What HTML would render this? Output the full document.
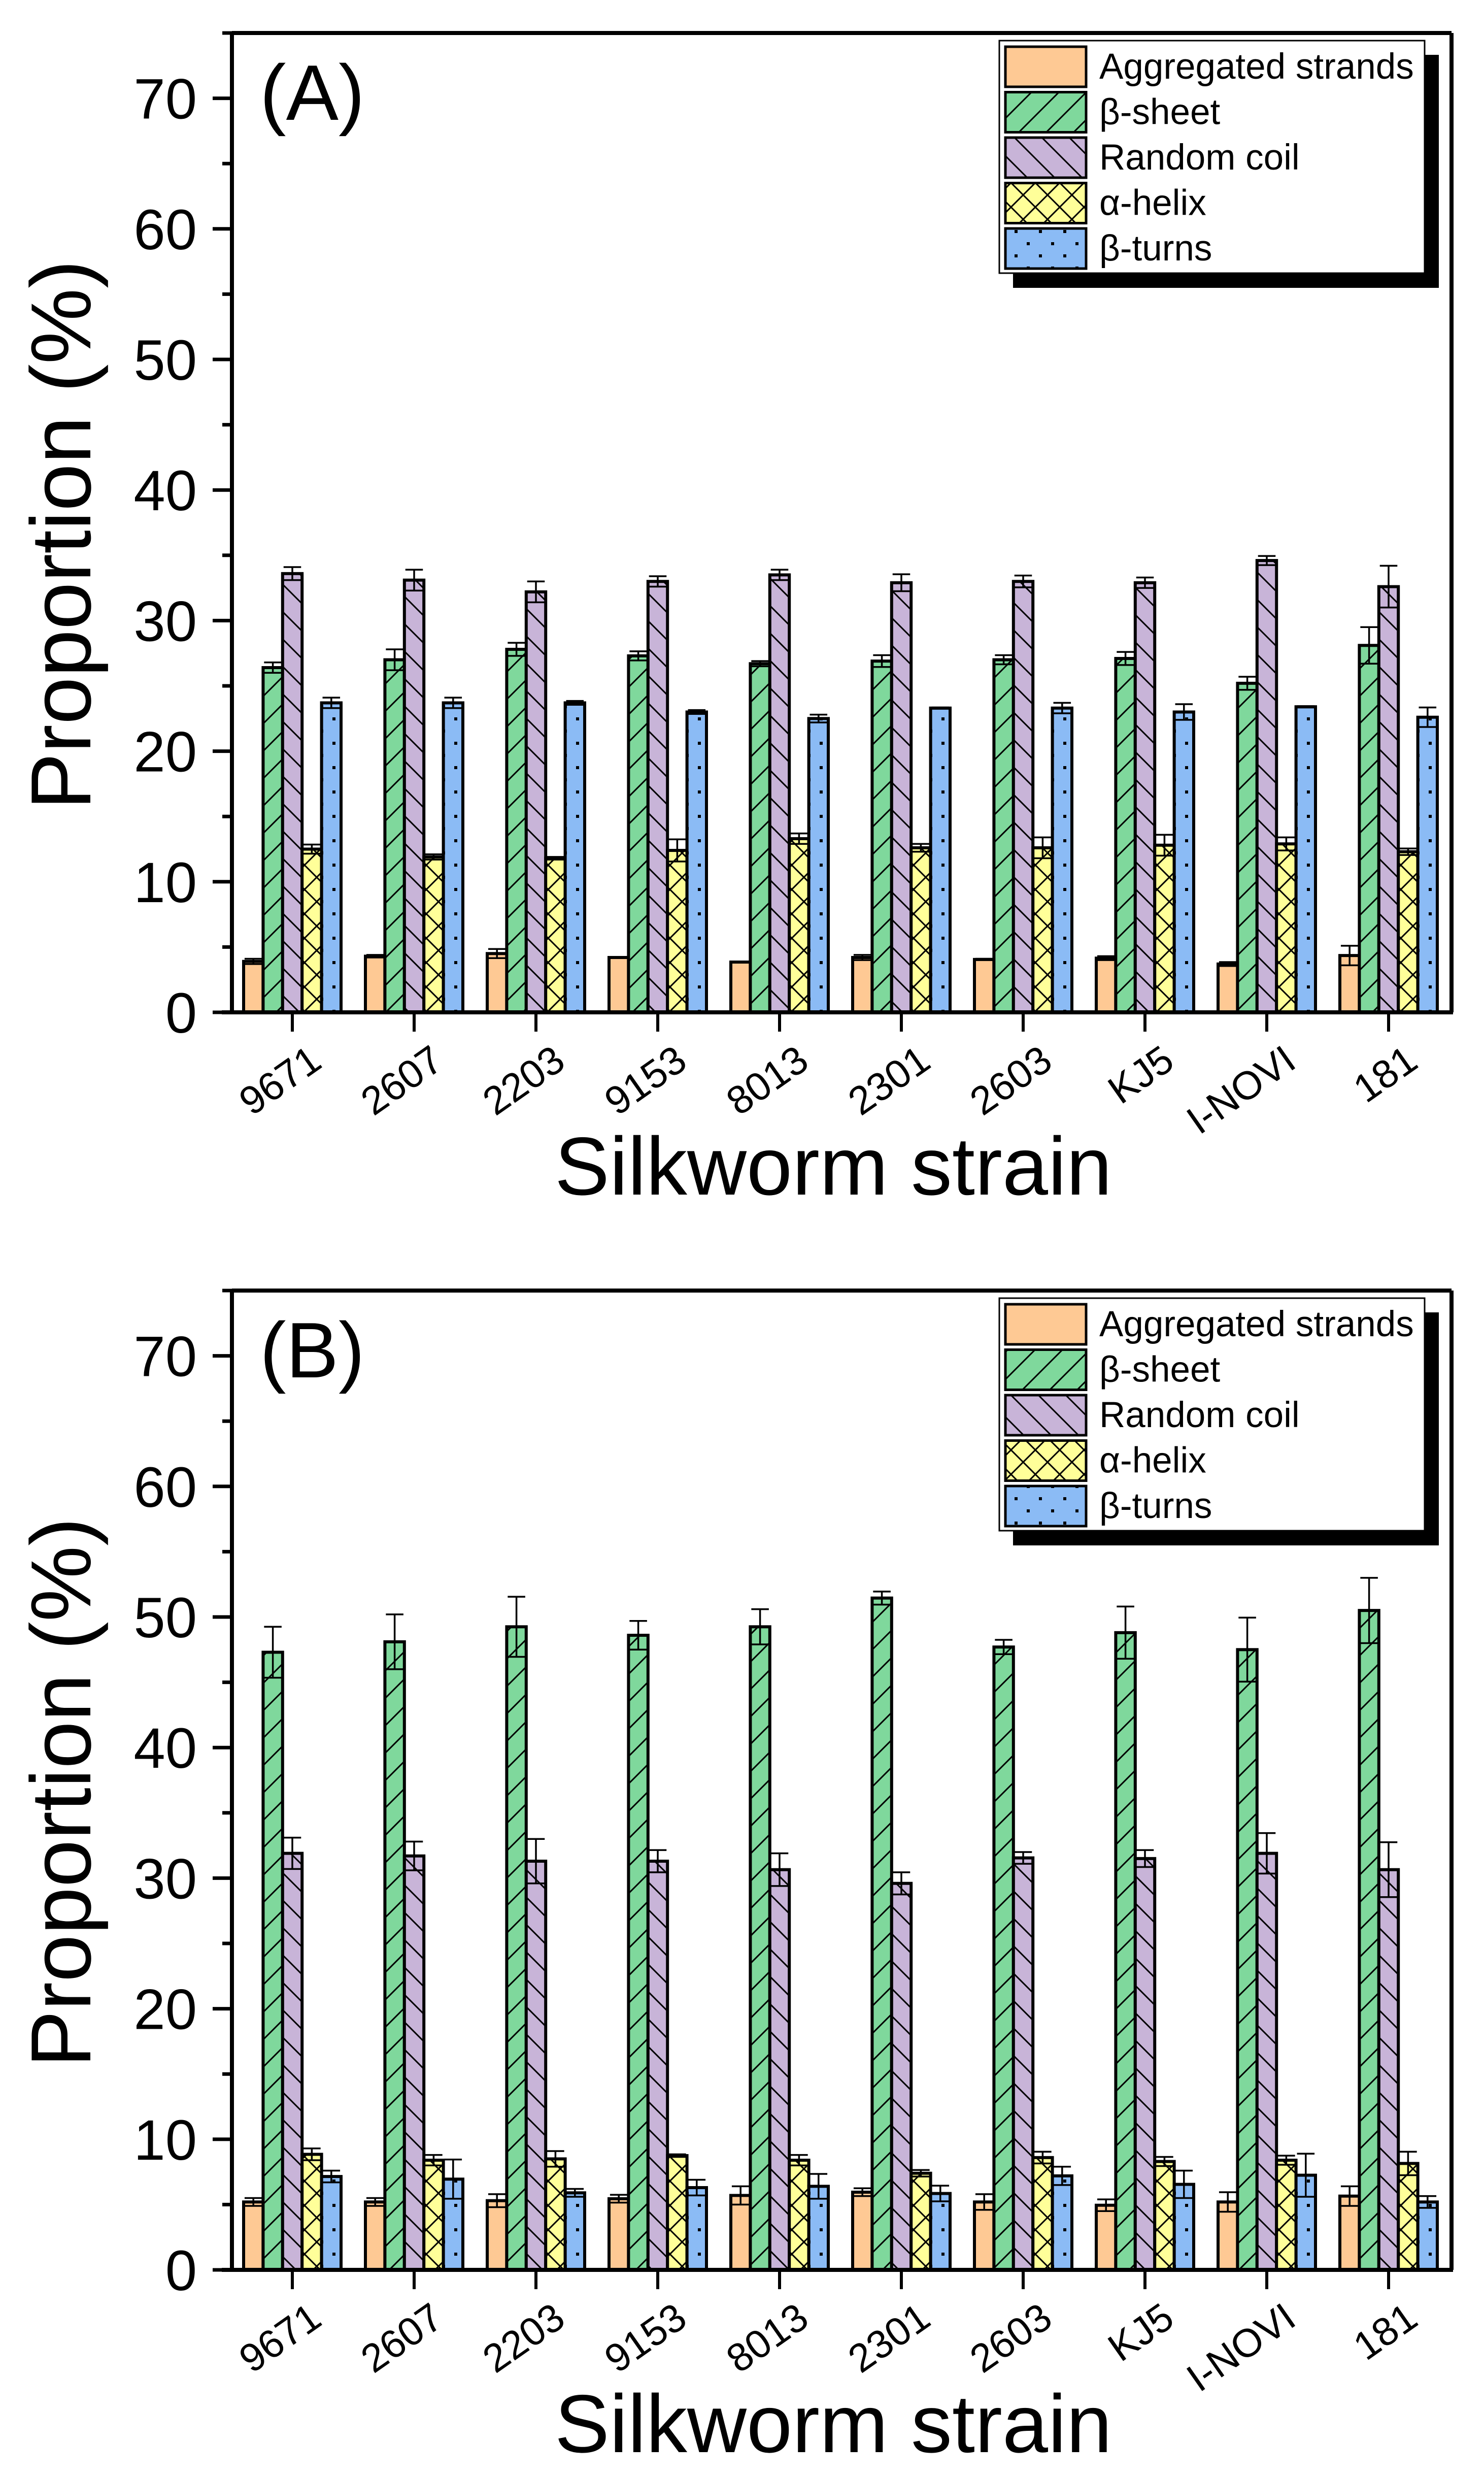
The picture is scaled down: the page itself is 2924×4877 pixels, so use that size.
<!DOCTYPE html>
<html><head><meta charset="utf-8">
<style>html,body{margin:0;padding:0;background:#fff}svg{display:block}</style>
</head><body>
<svg id="chart" xmlns="http://www.w3.org/2000/svg" width="2924" height="4877" viewBox="0 0 2924 4877" font-family="'Liberation Sans', Arial, sans-serif">
<defs>
<pattern id="pat-green" patternUnits="userSpaceOnUse" width="54" height="54"><rect width="54" height="54" fill="#7fd89c"/><path d="M0,54 L54,0 M-27,27 L27,-27 M27,81 L81,27" stroke="#000" stroke-width="3"/></pattern>
<pattern id="pat-purple" patternUnits="userSpaceOnUse" width="54" height="54"><rect width="54" height="54" fill="#c8b4d8"/><path d="M0,0 L54,54 M-27,27 L27,81 M27,-27 L81,27" stroke="#000" stroke-width="3"/></pattern>
<pattern id="pat-yellow" patternUnits="userSpaceOnUse" width="48" height="48"><rect width="48" height="48" fill="#ffff99"/><path d="M0,0 L48,48 M48,0 L0,48" stroke="#000" stroke-width="3"/></pattern>
<pattern id="pat-blue" patternUnits="userSpaceOnUse" width="48" height="48" x="10"><rect width="48" height="48" fill="#8bbbf5"/><rect x="21" y="21" width="6" height="6" fill="#000"/><rect x="-3" y="-3" width="6" height="6" fill="#000"/><rect x="45" y="-3" width="6" height="6" fill="#000"/><rect x="-3" y="45" width="6" height="6" fill="#000"/><rect x="45" y="45" width="6" height="6" fill="#000"/></pattern>
</defs>
<g id="root"></g>
</svg>
<script>
const categories = ["9671","2607","2203","9153","8013","2301","2603","KJ5","I-NOVI","181"];
const seriesNames = ["Aggregated strands","β-sheet","Random coil","α-helix","β-turns"];
const yTicks = [0,10,20,30,40,50,60,70];
// Panel A values
const aAgg = [3.9,4.3,4.5,4.2,3.85,4.2,4.05,4.15,3.7,4.35];
const aSheet = [26.4,27.0,27.8,27.3,26.7,26.9,27.0,27.1,25.2,28.1];
const aCoil = [33.6,33.1,32.2,33.0,33.5,32.9,33.0,32.9,34.6,32.6];
const aHelix = [12.5,11.9,11.8,12.4,13.3,12.6,12.6,12.8,12.9,12.3];
const aTurns = [23.7,23.7,23.7,23.0,22.5,23.3,23.3,23.0,23.4,22.6];
const aAggErr = [0.2,0.1,0.35,0.05,0.05,0.2,0.05,0.15,0.15,0.75];
const aSheetErr = [0.4,0.8,0.5,0.35,0.2,0.45,0.35,0.5,0.5,1.4];
const aCoilErr = [0.5,0.8,0.8,0.4,0.4,0.65,0.45,0.4,0.35,1.6];
const aHelixErr = [0.35,0.2,0.1,0.85,0.4,0.3,0.8,0.8,0.5,0.25];
const aTurnsErr = [0.4,0.4,0.15,0.15,0.3,0.05,0.4,0.6,0.05,0.75];
// Panel B values
const bAgg = [5.2,5.2,5.3,5.45,5.7,5.95,5.2,4.95,5.2,5.65];
const bSheet = [47.3,48.1,49.25,48.6,49.25,51.45,47.7,48.8,47.5,50.5];
const bCoil = [31.9,31.7,31.3,31.3,30.65,29.6,31.55,31.5,31.9,30.65];
const bHelix = [8.85,8.4,8.5,8.75,8.4,7.4,8.6,8.3,8.4,8.15];
const bTurns = [7.15,6.95,5.9,6.3,6.4,5.85,7.2,6.55,7.25,5.2];
const bAggErr = [0.3,0.3,0.5,0.3,0.7,0.3,0.6,0.45,0.75,0.75];
const bSheetErr = [1.95,2.1,2.3,1.1,1.35,0.5,0.55,2.0,2.45,2.5];
const bCoilErr = [1.2,1.1,1.7,0.85,1.25,0.85,0.45,0.65,1.55,2.1];
const bHelixErr = [0.45,0.4,0.6,0.1,0.4,0.25,0.45,0.35,0.35,0.9];
const bTurnsErr = [0.45,1.5,0.3,0.6,0.95,0.6,0.7,1.05,1.65,0.45];

const NS = "http://www.w3.org/2000/svg";
const root = document.getElementById("root");
const fills = ["#fec994","url(#pat-green)","url(#pat-purple)","url(#pat-yellow)","url(#pat-blue)"];
const keys = ["agg","sheet","coil","helix","turns"];
function mk(tag, attrs, parent){const e=document.createElementNS(NS,tag);for(const k in attrs)e.setAttribute(k,attrs[k]);(parent||root).appendChild(e);return e;}

const L=457, R=2860, catW=240, x0c=576;
function xc(i){return x0c+i*catW;}

function panel(off, label, vals, errs, pname){
  const y0=1994+off, top=65+off, s=(y0-top)/75;
  const ys=v=>y0-v*s;
  const g=mk("g",{});
  
  
  const bw=38.4;
  for(let si=0;si<5;si++){
    for(let i=0;i<categories.length;i++){
      const v=vals[si][i], e=errs[si][i];
      const x=xc(i)-2.5*bw+si*bw;
      const r=mk("rect",{x:x,y:ys(v),width:bw,height:y0-ys(v),fill:fills[si],stroke:"#000","stroke-width":6},g);
      
      
      const cx=x+bw/2, hw=bw*0.45;
      const eb=mk("path",{d:`M${cx},${ys(v+e)} L${cx},${ys(v-e)} M${cx-hw},${ys(v+e)} L${cx+hw},${ys(v+e)} M${cx-hw},${ys(v-e)} L${cx+hw},${ys(v-e)}`,stroke:"#000","stroke-width":3.5,fill:"none"},g);
      
      
    }
  }
  const ax=mk("path",{d:`M${L},${top} L${R},${top} M${R},${top} L${R},${y0} M${L},${top} L${L},${y0} M${L-20},${y0} L${R+3},${y0}`,stroke:"#000","stroke-width":8,fill:"none"},g);
  
  
  for(let v=0;v<=75;v+=5){
    const major=v%10===0;
    const t=mk("line",{x1:L-(major?38:19),x2:L,y1:ys(v),y2:ys(v),stroke:"#000","stroke-width":7},g);
    
    
  }
  yTicks.forEach(v=>{
    const t=mk("text",{x:388,y:ys(v)+40,"font-size":112,"text-anchor":"end"},g);
    t.textContent=v;
    
    
  });
  categories.forEach((c,i)=>{
    const t=mk("line",{x1:xc(i),x2:xc(i),y1:y0,y2:y0+38,stroke:"#000","stroke-width":6},g);
    
    
    const px=xc(i)+62, py=y0+106;
    const tl=mk("text",{x:px,y:py,"font-size":78,"text-anchor":"end",transform:`rotate(-35 ${px} ${py})`},g);
    tl.textContent=c;
    
    
  });
  const xt=mk("text",{x:1642,y:y0+359,"font-size":162,"text-anchor":"middle"},g);
  xt.textContent="Silkworm strain";
  
  
  const ycy=(top+y0)/2+24;
  const yt=mk("text",{x:178,y:ycy,"font-size":168,"text-anchor":"middle",transform:`rotate(-90 178 ${ycy})`},g);
  yt.textContent="Proportion (%)";
  
  
  const pl=mk("text",{x:512,y:236+off,"font-size":155},g);
  pl.textContent=label;
  
  
  const lg=mk("g",{},g);
  
  
  mk("rect",{x:1996,y:108+off,width:839,height:459,fill:"#000"},lg);
  mk("rect",{x:1969,y:80+off,width:838,height:458,fill:"#fff",stroke:"#000","stroke-width":3},lg);
  seriesNames.forEach((n,si)=>{
    const ry=92+off+si*89.5;
    const e=mk("g",{},lg);
    
    
    mk("rect",{x:1981,y:ry,width:159,height:79,fill:fills[si],stroke:"#000","stroke-width":5},e);
    const t=mk("text",{x:2166,y:ry+63,"font-size":71},e);
    t.textContent=n;
  });
}
panel(0,"(A)",[aAgg,aSheet,aCoil,aHelix,aTurns],[aAggErr,aSheetErr,aCoilErr,aHelixErr,aTurnsErr],"panel-a");
panel(2477,"(B)",[bAgg,bSheet,bCoil,bHelix,bTurns],[bAggErr,bSheetErr,bCoilErr,bHelixErr,bTurnsErr],"panel-b");
</script>
</body></html>
